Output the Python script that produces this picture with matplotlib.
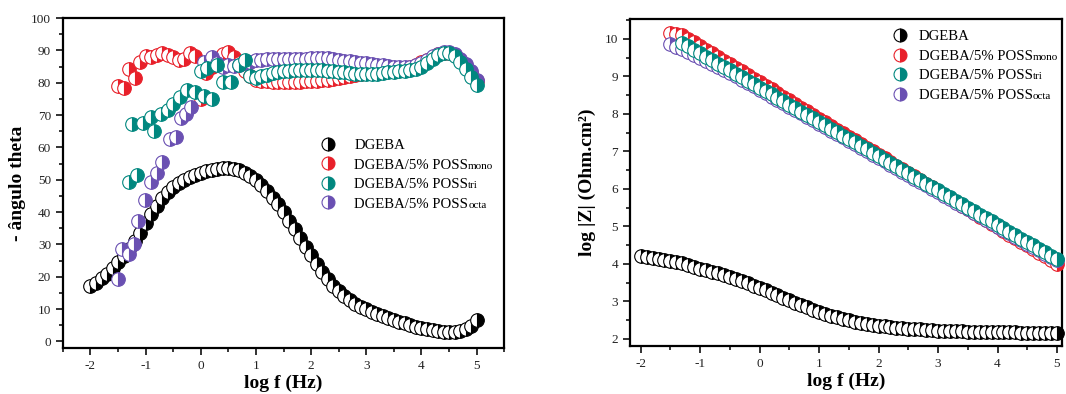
import numpy as np
import matplotlib
matplotlib.use('Agg')
import matplotlib.pyplot as plt
from matplotlib.ticker import MultipleLocator

plt.rcParams['font.family'] = ['Liberation Serif', 'DejaVu Serif']
plt.rcParams['axes.unicode_minus'] = False

# frequency sweep, 10 points per decade (log f / Hz)
logf_all = np.round(np.arange(-2.0, 5.01, 0.1), 1)
logf_poss = np.round(np.arange(-1.5, 5.01, 0.1), 1)
logf_high = np.round(np.arange(1.0, 5.01, 0.1), 1)
logf_tri_z = np.round(np.arange(-1.3, 5.01, 0.1), 1)

labels = ['DGEBA', 'DGEBA/5% POSS', 'DGEBA/5% POSS', 'DGEBA/5% POSS']
suffixes = ['', 'mono', 'tri', 'octa']
colors = ['#000000', '#e8202a', '#00877f', '#6a50b2']

# phase angle (- theta, degrees)
dgeba_theta = [17.0, 18.2, 19.5, 21.0, 22.7, 24.5, 26.5, 28.7, 31.0, 33.5,
               36.5, 39.5, 42.0, 44.3, 46.2, 47.7, 48.9, 49.9, 50.8, 51.5,
               52.1, 52.6, 53.0, 53.3, 53.5, 53.5, 53.3, 52.9, 52.2, 51.2,
               49.9, 48.3, 46.5, 44.5, 42.4, 40.1, 37.4, 34.7, 32.0, 29.3,
               26.6, 24.0, 21.6, 19.3, 17.2, 15.5, 14.0, 12.7, 11.6, 10.7,
               9.9, 9.1, 8.4, 7.8, 7.2, 6.6, 6.1, 5.6, 5.1, 4.6,
               4.2, 3.8, 3.4, 3.1, 2.9, 2.8, 2.9, 3.2, 3.8, 4.8, 6.5]

mono_theta = [79.0, 78.5, 84.3, 81.5, 86.5, 88.3, 88.0, 88.6, 89.2, 88.5,
              88.0, 87.0, 87.3, 89.2, 88.3, 75.0, 83.0, 85.0, 87.5, 89.0,
              89.5, 88.0, 86.0, 83.5, 82.0, 81.0, 80.6, 80.4, 80.3, 80.2,
              80.2, 80.2, 80.3, 80.3, 80.4, 80.5, 80.6, 80.8, 81.0, 81.2,
              81.5, 81.8, 82.1, 82.4, 82.7, 83.0, 83.2, 83.4, 83.6, 83.8,
              84.0, 84.3, 84.6, 85.0, 85.5, 86.3, 87.2, 88.0, 88.8, 89.3,
              89.3, 88.6, 87.2, 85.3, 83.0, 80.5]

tri_low_f = [-1.3, -1.15, -1.25, -1.05, -0.9, -0.85, -0.72, -0.6, -0.5, -0.38,
             -0.25, -0.1, 0.05, 0.2, 0.0, 0.12, 0.3, 0.4, 0.55, 0.7, 0.8, 0.9]
tri_low_theta = [49.2, 51.4, 67.4, 67.7, 69.5, 65.2, 70.2, 71.7, 73.5, 75.5,
                 77.8, 77.3, 76.0, 75.0, 83.5, 84.5, 85.5, 80.3, 80.3, 85.5,
                 87.0, 82.0]
tri_high_theta = [81.5, 82.0, 82.5, 83.0, 83.3, 83.6, 83.8, 84.0, 84.0, 84.1,
                  84.1, 84.0, 84.0, 83.8, 83.6, 83.4, 83.2, 83.0, 82.8, 82.7,
                  82.6, 82.7, 82.8, 83.0, 83.2, 83.4, 83.6, 83.8, 84.0, 84.2,
                  84.8, 86.0, 87.3, 88.5, 89.2, 89.3, 88.2, 86.5, 84.3, 81.8, 79.4]

octa_low_f = [-1.5, -1.43, -1.31, -1.22, -1.13, -1.02, -0.9, -0.8, -0.7, -0.55,
              -0.45, -0.36, -0.27, -0.18, 0.05, 0.2, 0.3, 0.4, 0.5, 0.6,
              0.7, 0.8, 0.9]
octa_low_theta = [19.4, 28.6, 27.0, 30.0, 37.2, 43.7, 49.4, 52.2, 55.4, 62.5,
                  63.3, 69.2, 70.5, 72.6, 86.5, 88.0, 86.0, 85.0, 85.5, 85.2,
                  85.5, 86.0, 86.5]
octa_high_theta = [87.0, 87.2, 87.3, 87.4, 87.5, 87.5, 87.5, 87.4, 87.4, 87.5,
                   87.7, 87.8, 87.8, 87.6, 87.3, 87.0, 86.8, 86.6, 86.4, 86.2,
                   86.0, 85.8, 85.6, 85.4, 85.2, 85.0, 84.8, 84.8, 85.0, 85.5,
                   86.2, 87.2, 88.2, 89.0, 89.5, 89.5, 88.8, 87.5, 85.8, 83.5, 81.0]

# impedance modulus, log |Z| (Ohm.cm2)
dgeba_z = [4.20, 4.18, 4.16, 4.14, 4.11, 4.08, 4.05, 4.01, 3.97, 3.92,
           3.87, 3.83, 3.79, 3.75, 3.70, 3.65, 3.60, 3.54, 3.48, 3.42,
           3.36, 3.29, 3.23, 3.16, 3.09, 3.03, 2.96, 2.90, 2.84, 2.78,
           2.72, 2.67, 2.62, 2.57, 2.53, 2.49, 2.46, 2.43, 2.40, 2.37,
           2.35, 2.33, 2.31, 2.29, 2.28, 2.27, 2.26, 2.25, 2.24, 2.23,
           2.22, 2.21, 2.21, 2.20, 2.20, 2.19, 2.19, 2.18, 2.18, 2.18,
           2.17, 2.17, 2.17, 2.17, 2.16, 2.16, 2.16, 2.16, 2.16, 2.16, 2.16]

mono_z = [10.15, 10.14, 10.10, 10.00, 9.91, 9.81, 9.71, 9.62, 9.52, 9.42,
          9.33, 9.23, 9.13, 9.04, 8.94, 8.84, 8.75, 8.65, 8.55, 8.46,
          8.36, 8.26, 8.16, 8.07, 7.97, 7.87, 7.78, 7.68, 7.58, 7.49,
          7.39, 7.29, 7.20, 7.10, 7.00, 6.91, 6.81, 6.71, 6.62, 6.52,
          6.42, 6.33, 6.23, 6.13, 6.04, 5.94, 5.84, 5.75, 5.65, 5.55,
          5.46, 5.36, 5.26, 5.17, 5.07, 4.97, 4.88, 4.78, 4.68, 4.58,
          4.49, 4.39, 4.29, 4.20, 4.10, 4.00]

tri_z = [9.89, 9.80, 9.71, 9.61, 9.52, 9.43, 9.34, 9.25, 9.16, 9.07,
         8.97, 8.88, 8.79, 8.70, 8.61, 8.52, 8.43, 8.33, 8.24, 8.15,
         8.06, 7.97, 7.88, 7.78, 7.69, 7.60, 7.51, 7.42, 7.33, 7.24,
         7.14, 7.05, 6.96, 6.87, 6.78, 6.69, 6.60, 6.50, 6.41, 6.32,
         6.23, 6.14, 6.05, 5.96, 5.86, 5.77, 5.68, 5.59, 5.50, 5.41,
         5.31, 5.22, 5.13, 5.04, 4.95, 4.86, 4.76, 4.67, 4.58, 4.49,
         4.40, 4.31, 4.21, 4.12]

octa_z = [9.85, 9.78, 9.72, 9.66, 9.58, 9.50, 9.42, 9.34, 9.26, 9.17,
          9.09, 9.00, 8.91, 8.82, 8.73, 8.64, 8.55, 8.46, 8.37, 8.28,
          8.19, 8.10, 8.01, 7.92, 7.83, 7.74, 7.64, 7.55, 7.46, 7.37,
          7.28, 7.19, 7.10, 7.00, 6.91, 6.82, 6.73, 6.64, 6.55, 6.46,
          6.37, 6.27, 6.18, 6.09, 6.00, 5.91, 5.82, 5.73, 5.63, 5.54,
          5.45, 5.36, 5.27, 5.18, 5.09, 4.99, 4.90, 4.81, 4.72, 4.63,
          4.54, 4.45, 4.36, 4.27, 4.18, 4.10]


def half_dots(ax, x, y, color, label=None, z=2):
    ''' half filled circles: left half white, right half coloured '''
    return ax.plot(x, y, ls='none', marker='o', ms=9.8, fillstyle='right',
                   markerfacecolor=color, markerfacecoloralt='white',
                   markeredgecolor=color, markeredgewidth=0.8,
                   label=label, zorder=z, clip_on=False)[0]


def style_axes(ax):
    for sp in ax.spines.values():
        sp.set_linewidth(1.6)
    ax.xaxis.set_major_locator(MultipleLocator(1))
    ax.xaxis.set_minor_locator(MultipleLocator(0.5))
    ax.tick_params(which='major', direction='out', length=5, width=1.3,
                   labelsize=9.5, colors='#222222')
    ax.tick_params(which='minor', direction='out', length=3, width=1.1)
    ax.set_xlabel('log f (Hz)', fontsize=14, fontweight='bold', labelpad=2)


def add_legend(fig, ax, handles, anchor, textpad):
    leg = ax.legend(handles, labels, loc='upper left', bbox_to_anchor=anchor,
                    frameon=False, fontsize=10.6, borderpad=0, borderaxespad=0,
                    handlelength=1.0, handletextpad=textpad, labelspacing=0.42,
                    markerscale=0.95)
    fig.canvas.draw()
    r = fig.canvas.get_renderer()
    for txt, suf in zip(leg.get_texts(), suffixes):
        if not suf:
            continue
        bb = txt.get_window_extent(r)
        _, _, d = r.get_text_width_height_descent('lp', txt.get_fontproperties(), ismath=False)
        x, y = fig.transFigure.inverted().transform((bb.x1, bb.y0 + d))
        fig.text(x, y, suf, fontsize=8, ha='left', va='baseline')
    return leg


fig = plt.figure(figsize=(10.66, 3.94), dpi=100)
ax1 = fig.add_axes([0.059, 0.117, 0.414, 0.837])
ax2 = fig.add_axes([0.591, 0.122, 0.405, 0.830])

# phase plot
h0 = half_dots(ax1, logf_all, dgeba_theta, colors[0], z=2)
h1 = half_dots(ax1, logf_poss, mono_theta, colors[1], z=3)
half_dots(ax1, octa_low_f, octa_low_theta, colors[3], z=4)
h3 = half_dots(ax1, logf_high, octa_high_theta, colors[3], z=4)
half_dots(ax1, tri_low_f, tri_low_theta, colors[2], z=5)
h2 = half_dots(ax1, logf_high, tri_high_theta, colors[2], z=5)
ax1.set_xlim(-2.5, 5.5)
ax1.set_ylim(-2, 100)
ax1.yaxis.set_major_locator(MultipleLocator(10))
ax1.yaxis.set_minor_locator(MultipleLocator(5))
style_axes(ax1)
ax1.set_ylabel('- ângulo theta', fontsize=14, fontweight='bold', labelpad=4)

# impedance plot
g0 = half_dots(ax2, logf_all, dgeba_z, colors[0], z=2)
g1 = half_dots(ax2, logf_poss, mono_z, colors[1], z=3)
g3 = half_dots(ax2, logf_poss, octa_z, colors[3], z=4)
g2 = half_dots(ax2, logf_tri_z, tri_z, colors[2], z=5)
ax2.set_xlim(-2.18, 5.08)
ax2.set_ylim(1.81, 10.53)
ax2.yaxis.set_major_locator(MultipleLocator(1))
ax2.yaxis.set_minor_locator(MultipleLocator(0.5))
style_axes(ax2)
ax2.set_ylabel('log |Z| (Ohm.cm²)', fontsize=14, fontweight='bold', labelpad=6)

add_legend(fig, ax1, [h0, h1, h2, h3], (0.585, 0.634), 1.25)
add_legend(fig, ax2, [g0, g1, g2, g3], (0.609, 0.966), 0.75)

fig.savefig('out.png', dpi=100)
